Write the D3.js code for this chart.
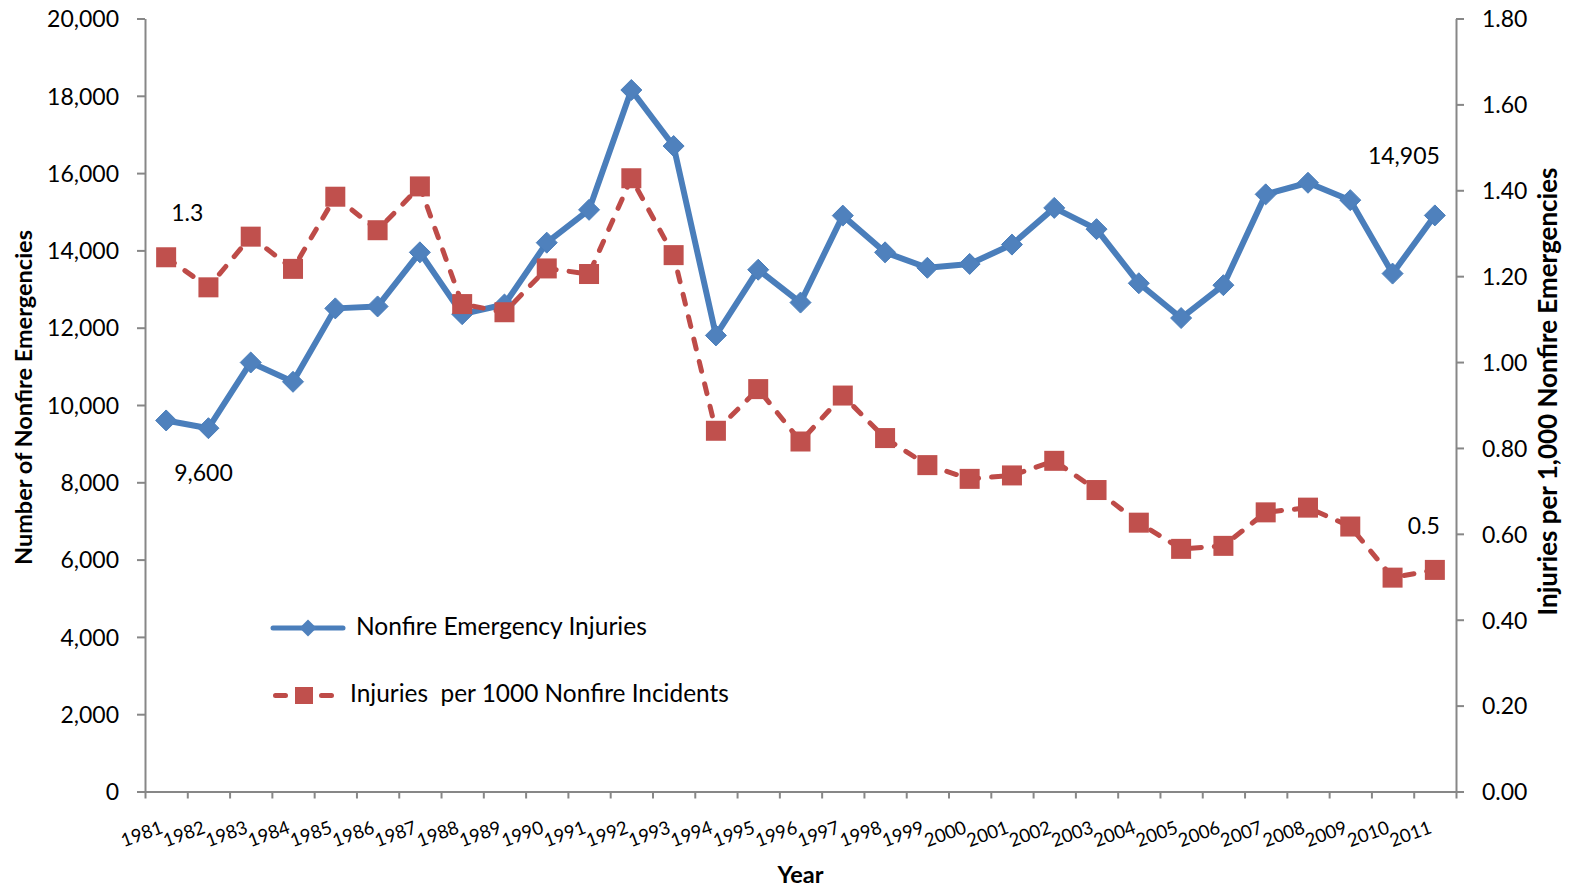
<!DOCTYPE html>
<html><head><meta charset="utf-8">
<script src="https://cdn.jsdelivr.net/npm/d3@7"></script>
<style>
html,body{margin:0;padding:0;background:#fff;}
svg{display:block;font-family:Lato,"Open Sans",sans-serif;}
</style></head><body>
<svg id="chart" width="1574" height="888"></svg>
<script>
// ---------------- data ----------------
const years = ["1981","1982","1983","1984","1985","1986","1987","1988","1989","1990",
  "1991","1992","1993","1994","1995","1996","1997","1998","1999","2000",
  "2001","2002","2003","2004","2005","2006","2007","2008","2009","2010","2011"];
const injuries = [9600, 9400, 11100, 10600, 12500, 12550, 13950, 12350, 12600, 14200,
  15050, 18150, 16700, 11800, 13500, 12650, 14900, 13950, 13550, 13650,
  14150, 15100, 14550, 13150, 12250, 13100, 15450, 15750, 15300, 13400, 14905];
const injuryRate = [1.244, 1.174, 1.292, 1.217, 1.385, 1.307, 1.409, 1.135, 1.116, 1.218,
  1.205, 1.428, 1.249, 0.840, 0.937, 0.815, 0.922, 0.823, 0.760, 0.728,
  0.736, 0.770, 0.702, 0.626, 0.565, 0.572, 0.650, 0.661, 0.617, 0.498, 0.516];
const leftTicks = [0, 2000, 4000, 6000, 8000, 10000, 12000, 14000, 16000, 18000, 20000];
const rightTicks = [0, 0.2, 0.4, 0.6, 0.8, 1.0, 1.2, 1.4, 1.6, 1.8];
const seriesNames = ["Nonfire Emergency Injuries", "Injuries  per 1000 Nonfire Incidents"];
const leftTitle = "Number of Nonfire Emergencies";
const rightTitle = "Injuries per 1,000 Nonfire Emergencies";
const bottomTitle = "Year";
const annoStartLabels = ["1.3", "9,600"];   // first-year labels: rate, count
const annoEndLabels = ["14,905", "0.5"];    // last-year labels: count, rate

// ---------------- layout ----------------
const svg = d3.select("#chart");
const X0 = 145, X1 = 1456, Y0 = 791.5, Y1 = 18.5;
const BLUE = "#4A7EBB", BLUE_M = "#4F81BD", RED = "#BE4B48", RED_M = "#C0504D";
const AXIS = "#878787";

const x = d3.scaleBand().domain(years).range([X0, X1]).padding(0);
const xb = d3.scaleLinear().domain([0, years.length]).range([X0, X1]);
const cx = d => x(d) + x.bandwidth() / 2;
const yL = d3.scaleLinear().domain([0, 20000]).range([Y0, Y1]);
const yR = d3.scaleLinear().domain([0, 1.8]).range([Y0, Y1]);

svg.append("rect").attr("width", 1574).attr("height", 888).attr("fill", "#fff");

// scale a text's font so its length matches the reference width
function fit(sel, target) {
  const fs = +sel.attr("font-size");
  const len = sel.node().getComputedTextLength();
  if (len > 0) sel.attr("font-size", (fs * target / len).toFixed(2));
  return sel;
}

function styleAxis(g) {
  g.select(".domain").attr("stroke", AXIS).attr("stroke-width", 2);
  g.selectAll(".tick line").attr("stroke", AXIS).attr("stroke-width", 2);
  g.selectAll(".tick text").attr("fill", "#000").attr("font-size", 23)
    .attr("font-family", "Lato, 'Open Sans', sans-serif");
}

// left axis
const gL = svg.append("g").attr("transform", `translate(${X0},0)`)
  .call(d3.axisLeft(yL).tickValues(leftTicks).tickSize(8).tickSizeOuter(0).tickPadding(18).tickFormat(d3.format(",")));
styleAxis(gL);
gL.selectAll(".tick text").attr("dy", "0.36em");

// right axis
const gR = svg.append("g").attr("transform", `translate(${X1},0)`)
  .call(d3.axisRight(yR).tickValues(rightTicks).tickSize(8).tickSizeOuter(0).tickPadding(18).tickFormat(d3.format(".2f")));
styleAxis(gR);
gR.selectAll(".tick text").attr("dy", "0.36em");

// bottom axis (ticks at category boundaries)
const gB = svg.append("g").attr("transform", `translate(0,${Y0})`)
  .call(d3.axisBottom(xb).tickValues(d3.range(0, years.length + 1)).tickSize(7).tickSizeOuter(0).tickFormat(""));
styleAxis(gB);

// rotated category labels
svg.append("g").selectAll("text").data(years).join("text")
  .attr("transform", d => `translate(${cx(d) - 2},${Y0 + 41}) rotate(-20)`)
  .attr("text-anchor", "end")
  .attr("font-size", 18.5)
  .attr("fill", "#000")
  .text(d => d);

// axis titles
fit(svg.append("text").attr("transform", `translate(32,397.5) rotate(-90)`)
  .attr("text-anchor", "middle").attr("font-weight", "bold").attr("font-size", 23)
  .text(leftTitle), 335);
fit(svg.append("text").attr("transform", `translate(1557,391.5) rotate(-90)`)
  .attr("text-anchor", "middle").attr("font-weight", "bold").attr("font-size", 23)
  .text(rightTitle), 448);
svg.append("text").attr("x", (X0 + X1) / 2).attr("y", 883)
  .attr("text-anchor", "middle").attr("font-weight", "bold").attr("font-size", 23.5)
  .text(bottomTitle);

// series 1: injuries (left axis)
const lineL = d3.line().x((d, i) => cx(years[i])).y(d => yL(d));
svg.append("path").datum(injuries).attr("d", lineL)
  .attr("fill", "none").attr("stroke", BLUE).attr("stroke-width", 6)
  .attr("stroke-linejoin", "round").attr("stroke-linecap", "round");
const diamond = r => `M0,${-r}L${r},0L0,${r}L${-r},0Z`;
svg.append("g").selectAll("path").data(injuries).join("path")
  .attr("transform", (d, i) => `translate(${cx(years[i])},${yL(d)})`)
  .attr("d", diamond(10.5)).attr("fill", BLUE_M).attr("stroke", BLUE).attr("stroke-width", 1);

// series 2: rate (right axis)
const lineR = d3.line().x((d, i) => cx(years[i])).y(d => yR(d));
svg.append("path").datum(injuryRate).attr("d", lineR)
  .attr("fill", "none").attr("stroke", RED).attr("stroke-width", 5)
  .attr("stroke-dasharray", "10,13").attr("stroke-linecap", "round").attr("stroke-linejoin", "round");
svg.append("g").selectAll("rect").data(injuryRate).join("rect")
  .attr("x", (d, i) => cx(years[i]) - 10).attr("y", d => yR(d) - 10)
  .attr("width", 20).attr("height", 20).attr("fill", RED_M);

// annotations
const first = years[0], last = years[years.length - 1];
svg.append("text").attr("x", cx(first) + 5).attr("y", yR(injuryRate[0]) - 36)
  .attr("font-size", 23).text(annoStartLabels[0]);
svg.append("text").attr("x", cx(first) + 8).attr("y", yL(injuries[0]) + 61)
  .attr("font-size", 23).text(annoStartLabels[1]);
svg.append("text").attr("x", cx(last) + 5).attr("y", yL(injuries[injuries.length - 1]) - 51)
  .attr("text-anchor", "end").attr("font-size", 23).text(annoEndLabels[0]);
svg.append("text").attr("x", cx(last) + 5).attr("y", yR(injuryRate[injuryRate.length - 1]) - 36)
  .attr("text-anchor", "end").attr("font-size", 23).text(annoEndLabels[1]);

// legend
const lg = svg.append("g");
lg.append("line").attr("x1", 273).attr("x2", 343).attr("y1", 628).attr("y2", 628)
  .attr("stroke", BLUE).attr("stroke-width", 5).attr("stroke-linecap", "round");
lg.append("path").attr("transform", "translate(308,628)").attr("d", diamond(8.5)).attr("fill", BLUE_M);
fit(lg.append("text").attr("x", 356).attr("y", 635).attr("font-size", 23).text(seriesNames[0]), 291);

lg.append("line").attr("x1", 275.5).attr("x2", 333).attr("y1", 695.5).attr("y2", 695.5)
  .attr("stroke", RED).attr("stroke-width", 5).attr("stroke-linecap", "round").attr("stroke-dasharray", "10,13");
lg.append("rect").attr("x", 295).attr("y", 687).attr("width", 18).attr("height", 17).attr("fill", RED_M);
fit(lg.append("text").attr("x", 350).attr("y", 701.5).attr("font-size", 23)
  .style("white-space", "pre").text(seriesNames[1]), 379);
</script>
</body></html>
